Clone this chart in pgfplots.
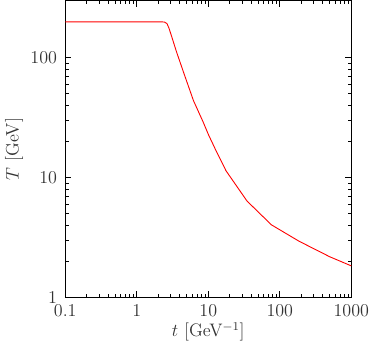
\documentclass[border=0pt]{standalone}
\usepackage{pgfplots}
\pgfplotsset{compat=1.18}
\begin{document}
\begin{tikzpicture}
\begin{axis}[
  scale only axis,
  width=190pt, height=197pt,
  xmode=log, ymode=log,
  xmin=0.1, xmax=1000, ymin=1, ymax=300,
  xtick={0.1,1,10,100,1000},
  xticklabels={0.1,1,10,100,1000},
  ytick={1,10,100},
  yticklabels={1,10,100},
  tick align=inside,
  axis line style={line width=1pt},
  major tick length=4pt, minor tick length=2.2pt,
  every tick/.style={black, line width=0.6pt},
  tick label style={font=\large, text=black!80},
  label style={font=\large, text=black!80},
  xticklabel style={yshift=-1pt},
  yticklabel style={xshift=-2pt},
  xlabel={$t$ [GeV$^{-1}$]},
  ylabel={$T$ [GeV]},
  xlabel style={yshift=3pt},
  ylabel style={yshift=-2pt},
]
\addplot[red, line width=0.6pt] coordinates {
  (0.1,200) (1,200) (2.2,200) (2.45,199) (2.65,193) (2.82,177) (3.0,158)
  (3.6,112) (4.5,76) (6.2,44) (8.5,29) (10,23) (13,16.5) (17.7,11.4)
  (34.8,6.37) (76.4,4.03) (186,2.94) (500,2.18) (1000,1.83)
};
\end{axis}
\end{tikzpicture}
\end{document}
